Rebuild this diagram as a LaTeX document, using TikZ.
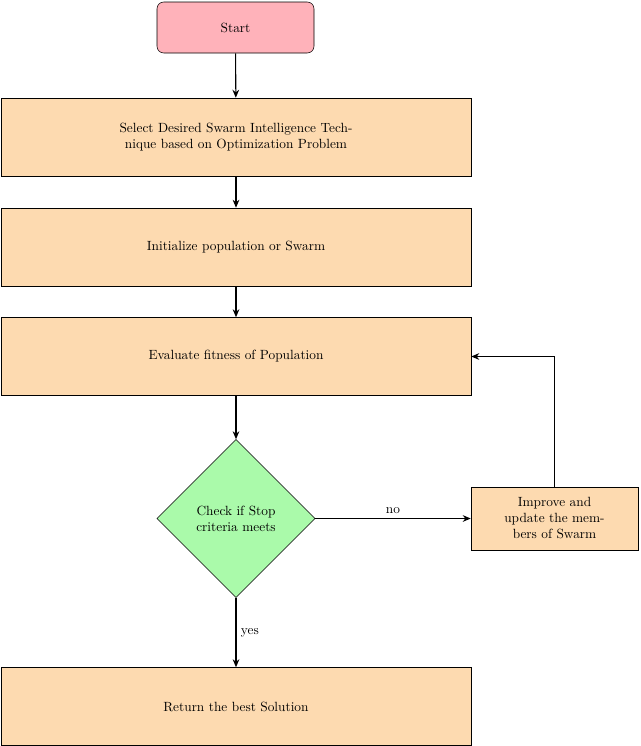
\documentclass[tikz,border=0pt]{standalone}
\usetikzlibrary{shapes.geometric,arrows.meta}
\definecolor{startc}{RGB}{255,178,186}
\definecolor{boxc}{RGB}{253,218,176}
\definecolor{decc}{RGB}{170,250,170}
\begin{document}
\begin{tikzpicture}[x=0.75pt,y=-0.75pt,
  box/.style={draw,fill=boxc,minimum width=352.5pt,minimum height=58.5pt,align=center,inner sep=2pt},
  arr/.style={draw,line width=0.8pt,-{Stealth[length=6pt,width=5pt]}}]
\useasboundingbox (0,0) rectangle (640,746);
\node[draw,fill=startc,rounded corners=5pt,minimum width=117.75pt,minimum height=38.25pt] (start) at (235.5,27.5) {Start};
\node[box,text width=230pt] (sel) at (236,137) {Select Desired Swarm Intelligence Tech-\\nique based on Optimization Problem};
\node[box] (init) at (236,247) {Initialize population or Swarm};
\node[box] (eval) at (236,356.5) {Evaluate fitness of Population};
\node[draw,fill=decc,diamond,aspect=1,minimum width=118.5pt,minimum height=118.5pt,inner sep=0pt,align=center] (chk) at (236,518.5) {Check if Stop\\criteria meets};
\node[draw,fill=boxc,minimum width=125.25pt,minimum height=47.25pt,align=center,inner sep=1pt] (imp) at (554.5,518.5) {Improve and\\update the mem-\\bers of Swarm};
\node[box] (ret) at (236,706.5) {Return the best Solution};
\draw[arr] (start) -- (sel);
\draw[arr] (sel) -- (init);
\draw[arr] (init) -- (eval);
\draw[arr] (eval) -- (chk);
\draw[arr] (chk) -- node[above] {no} (imp);
\draw[arr] (chk) -- node[right] {yes} (ret);
\draw[arr] (imp.north) |- (eval.east);
\end{tikzpicture}
\end{document}
